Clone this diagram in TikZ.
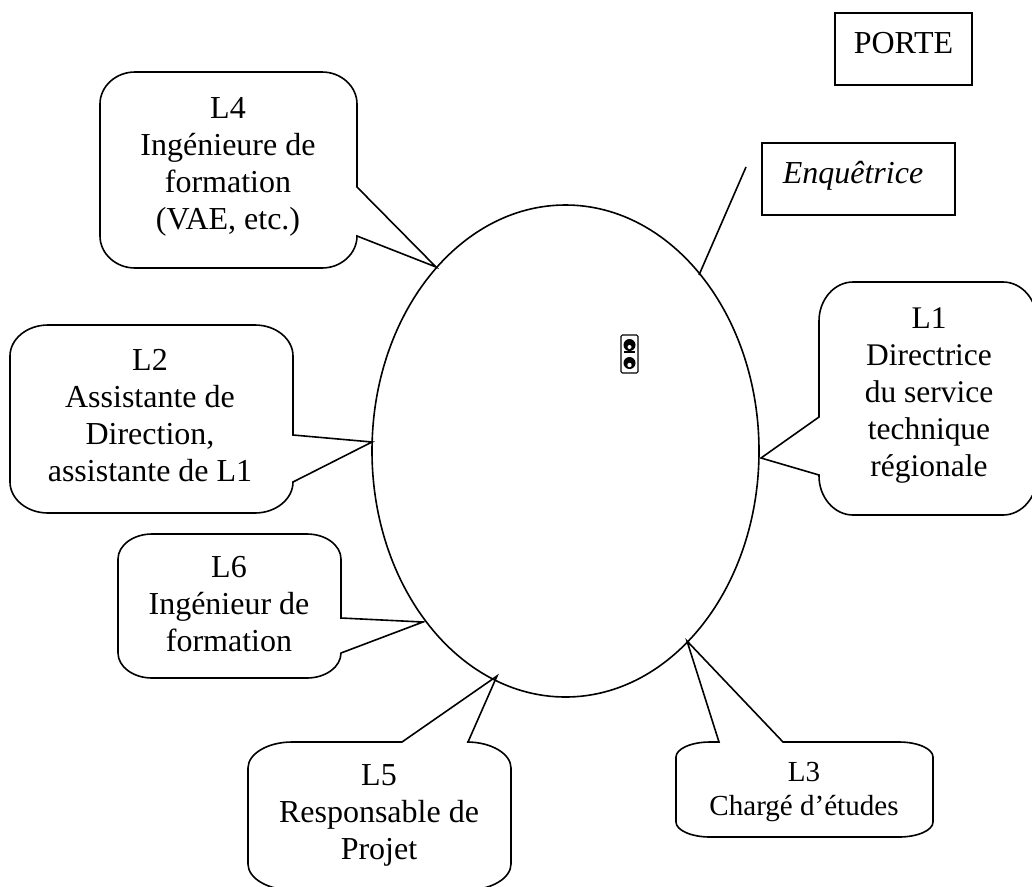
\documentclass[tikz,border=0pt]{standalone}
\usepackage{fontspec}
\setmainfont{Liberation Serif}
\usetikzlibrary{shapes.geometric}
\newcommand{\bubbleshape}[9]{%
  \draw[bubbleline] (#1+#5,#2) #7 -- (#3-#5,#2)
    .. controls ({#3-#5*.45},#2) and (#3,{#2+#6*.45}) .. (#3,#2+#6) #8
    -- (#3,#4-#6)
    .. controls (#3,{#4-#6*.45}) and ({#3-#5*.45},#4) .. (#3-#5,#4)
    -- (#1+#5,#4)
    .. controls ({#1+#5*.45},#4) and (#1,{#4-#6*.45}) .. (#1,#4-#6) #9
    -- (#1,#2+#6)
    .. controls (#1,{#2+#6*.45}) and ({#1+#5*.45},#2) .. (#1+#5,#2) -- cycle;}
\tikzset{
  bubbleline/.style={line width=1.2pt,line join=miter,black},
  label24/.style={anchor=north,align=center,inner sep=0pt,outer sep=0pt,
    font=\fontsize{24pt}{27.7pt}\selectfont},
  label1/.style={anchor=north,align=center,inner sep=0pt,outer sep=0pt,
    font=\fontsize{23.6pt}{27.7pt}\selectfont},
  label3/.style={anchor=north,align=center,inner sep=0pt,outer sep=0pt,
    font=\fontsize{21.8pt}{25.2pt}\selectfont},
  boxlabel/.style={anchor=base,inner sep=0pt,outer sep=0pt,
    font=\fontsize{24pt}{27.7pt}\selectfont},
  roomshape/.style={ellipse,draw,line width=1.2pt,inner sep=0pt,outer sep=0pt,
    minimum width=290.25pt,minimum height=369pt},
  plainbox/.style={draw,line width=1.1pt,inner sep=0pt,outer sep=0pt},
}
\begin{document}
\begin{tikzpicture}[x=0.75pt,y=-0.75pt]
\useasboundingbox (0,0) rectangle (1032,886);
\clip (0,0) rectangle (1032,886);
% room
\node[roomshape] (room) at (565.5,451) {};
% boxes
\node[plainbox,minimum width=102.75pt,minimum height=54pt] (porte) at (903.5,49) {};
\node[boxlabel] (portetxt) at (903.5,53) {PORTE};
\node[plainbox,minimum width=144.75pt,minimum height=54pt] (enq) at (858.5,179) {};
\node[boxlabel] (enqtxt) at (853,183) {\itshape Enquêtrice};
\coordinate (enqA) at (746,167);
\coordinate (enqB) at (699,275);
\draw[bubbleline] (enqA) -- (enqB);
% bubbles
\bubbleshape{100}{72}{357}{268}{35}{32}{}{-- (357,187) -- (436,267) -- (357,236)}{}
\bubbleshape{10}{325}{293}{513}{38}{31}{}{-- (293,435) -- (372,442) -- (293,482)}{}
\bubbleshape{118}{534}{341}{678}{34}{25}{}{-- (341,618) -- (423,622) -- (341,653)}{}
\bubbleshape{248}{742}{511}{890}{44}{26}{-- (402,742) -- (497,676) -- (468,742)}{}{}
\bubbleshape{819}{282}{1037}{515}{34}{39}{}{}{-- (819,475) -- (761,458) -- (819,417)}
\bubbleshape{676}{742}{933}{837}{34}{15}{-- (719,742) -- (687,641) -- (783,742)}{}{}
% texts
\node[label24] (t4) at (228,97.4) {L4\\Ingénieure de\\formation\\(VAE, etc.)};
\node[label24] (t2) at (150,349.4) {L2\\Assistante de\\Direction,\\assistante de L1};
\node[label24] (t6) at (229,556.4) {L6\\Ingénieur de\\formation};
\node[label24] (t5) at (379,764.4) {L5\\Responsable de\\Projet};
\node[label1] (t1) at (929,307.7) {L1\\Directrice\\du service\\technique\\régionale};
\node[label3] (t3) at (804,762.4) {L3\\Chargé d’études};
% socket symbol
\draw[line width=0.8pt,rounded corners=1pt] (621,335) rectangle (638,373);
\fill (629.5,345) circle[radius=6];
\fill[white] (629.5,347) circle[radius=2];
\fill (624,351) rectangle (635,352.5);
\fill (629.5,363) circle[radius=6];
\fill[white] (629.5,365) circle[radius=2.2];
\end{tikzpicture}
\end{document}
